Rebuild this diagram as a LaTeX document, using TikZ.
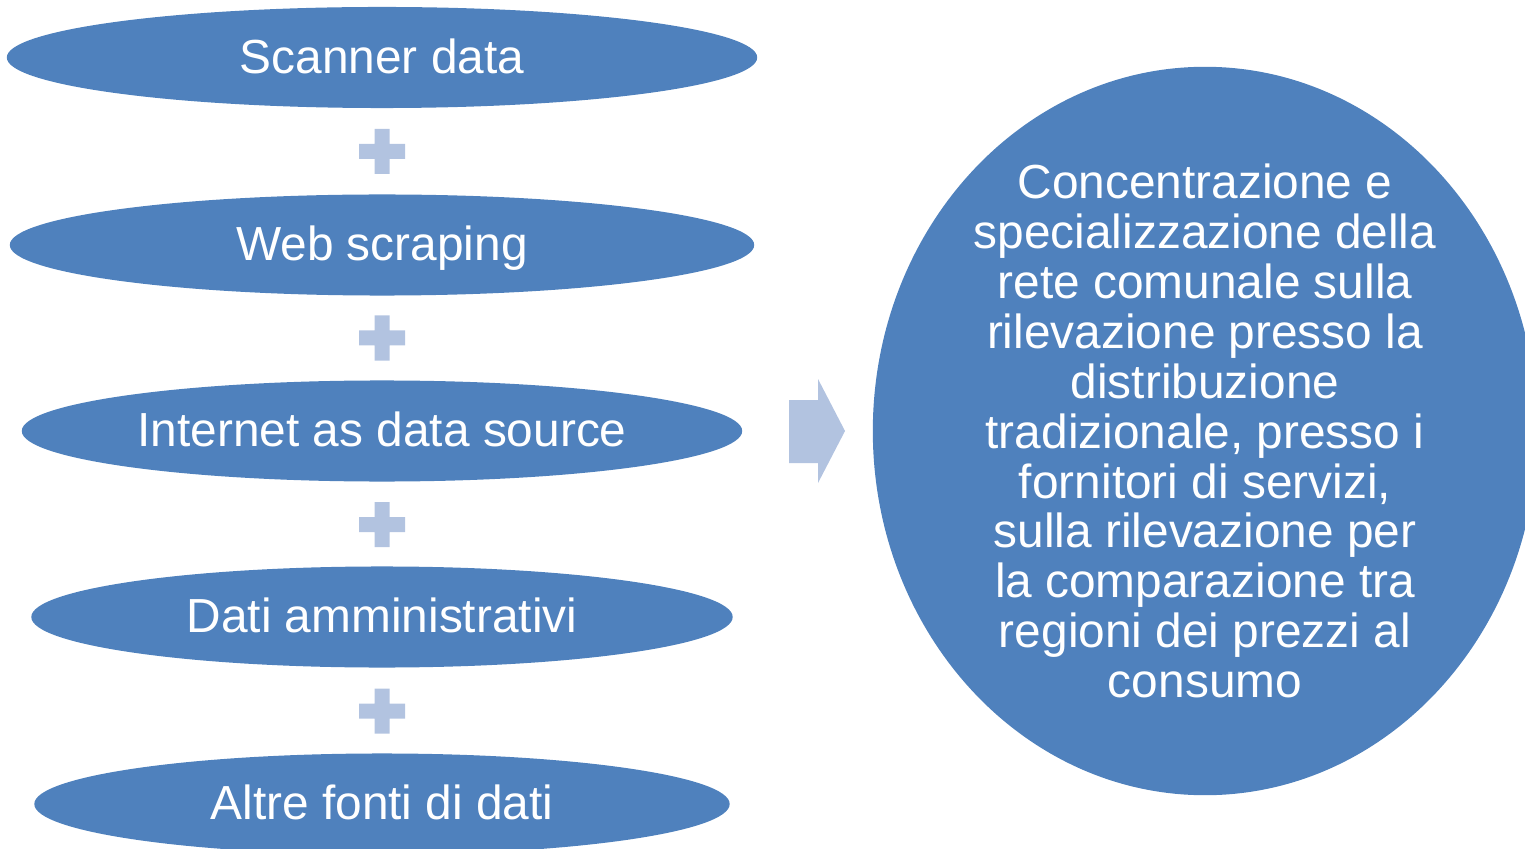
\documentclass[tikz,border=0pt]{standalone}
\usepackage{fontspec}
\setmainfont{Liberation Sans}
\usetikzlibrary{shapes.geometric}

\definecolor{srcblue}{RGB}{79,129,189}
\definecolor{lightblue}{RGB}{178,195,224}

\tikzset{
  source/.style={ellipse,fill=srcblue,draw=none,minimum height=1.01cm,inner sep=0pt,
    text=white,text height=0.4cm,text depth=0.09cm,font=\fontsize{13.6}{14.2}\selectfont},
  target/.style={inner sep=0pt,text=white,align=center,font=\fontsize{13.6}{14.2}\selectfont},
  plussign/.style={fill=lightblue,draw=none}
}

\begin{document}
\begin{tikzpicture}[x=0.01cm,y=-0.01cm]
\useasboundingbox (0,0) rectangle (1525,849);
\clip (0,0) rectangle (1525,849);

\node[source,minimum width=7.5cm] (scanner) at (382,57.5) {Scanner data};
\node[source,minimum width=7.44cm] (web) at (382,245) {Web scraping};
\node[source,minimum width=7.2cm] (internet) at (382,431) {Internet as data source};
\node[source,minimum width=7.01cm] (admin) at (382,617) {Dati amministrativi};
\node[source,minimum width=6.95cm] (other) at (382,804) {Altre fonti di dati};

% plus signs between the sources
\foreach \y in {151.5,338,524.5,711}
  \fill[plussign] (374.5,\y-22.5) rectangle ++(15,45) (359,\y-7.5) rectangle ++(46,15);

% block arrow
\coordinate (tip) at (845,431);
\fill[plussign] (789,400) -- (818,400) -- (818,379) -- (tip) -- (818,483) -- (818,463) -- (789,463) -- cycle;

% result
\coordinate (mid) at (1205,431);
\fill[srcblue] (mid) ellipse [x radius=3.32cm, y radius=3.64cm];
\node[target] (goal) at (mid) {Concentrazione e\\specializzazione della\\rete comunale sulla\\rilevazione presso la\\distribuzione\\tradizionale, presso i\\fornitori di servizi,\\sulla rilevazione per\\la comparazione tra\\regioni dei prezzi al\\consumo};

\end{tikzpicture}
\end{document}
